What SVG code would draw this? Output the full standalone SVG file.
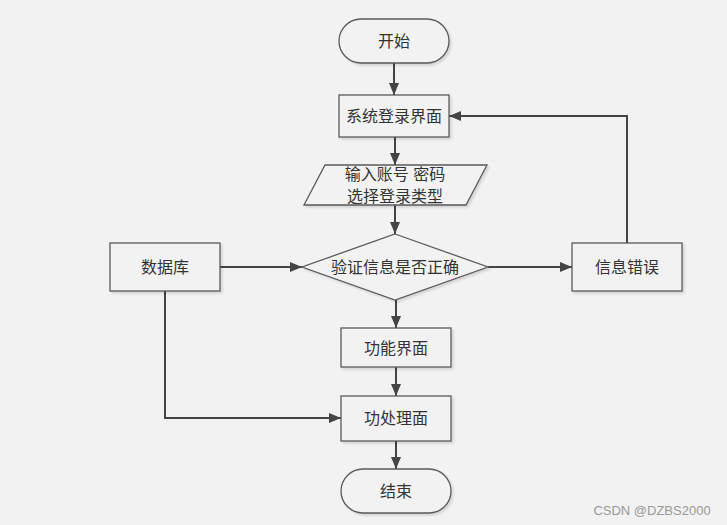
<svg xmlns="http://www.w3.org/2000/svg" width="727" height="525" viewBox="0 0 727 525">
<style>
.s{fill:#f2f2f2;stroke:#5a5a5a;stroke-width:1.3}
.t{font-family:"Liberation Sans","Noto Sans CJK SC",sans-serif;font-size:16px;fill:#333;text-anchor:middle;dominant-baseline:central}
.c{fill:none;stroke:#444;stroke-width:2}
</style>
<defs>
<marker id="a" viewBox="0 0 12 10" refX="12" refY="5" markerWidth="12" markerHeight="10" orient="auto" markerUnits="userSpaceOnUse">
<path d="M0,0 L12,5 L0,10 z" fill="#444"/>
</marker>
<filter id="sh" x="-10%" y="-10%" width="130%" height="130%"><feDropShadow dx="2" dy="2" stdDeviation="1" flood-color="#000" flood-opacity="0.12"/></filter>
</defs>
<rect width="727" height="525" fill="#f2f2f2"/>
<g id="connectors">
<path d="M394,63 V95" class="c" marker-end="url(#a)"/>
<path d="M395,137 V165" class="c" marker-end="url(#a)"/>
<path d="M395,205 V234" class="c" marker-end="url(#a)"/>
<path d="M220,267 H302" class="c" marker-end="url(#a)"/>
<path d="M488,267 H572" class="c" marker-end="url(#a)"/>
<path d="M627,243 V116 H449" class="c" marker-end="url(#a)"/>
<path d="M396,300 V328" class="c" marker-end="url(#a)"/>
<path d="M396,367 V396" class="c" marker-end="url(#a)"/>
<path d="M165,291 V418 H341" class="c" marker-end="url(#a)"/>
<path d="M396,441 V469" class="c" marker-end="url(#a)"/>
</g>
<g id="start"><rect class="s" filter="url(#sh)" x="339" y="19" width="110" height="44" rx="22"/><text class="t" x="394" y="41">开始</text></g>
<g id="login"><rect class="s" filter="url(#sh)" x="339" y="95" width="110" height="42"/><text class="t" x="394" y="116">系统登录界面</text></g>
<g id="input"><polygon class="s" filter="url(#sh)" points="325,165 487,165 466,205 304,205"/><text class="t" x="395" y="174">输入账号 密码</text><text class="t" x="395" y="196">选择登录类型</text></g>
<g id="verify"><polygon class="s" filter="url(#sh)" points="395,234 488,267 395,300 302,267"/><text class="t" x="395" y="267">验证信息是否正确</text></g>
<g id="db"><rect class="s" filter="url(#sh)" x="110" y="243" width="110" height="48"/><text class="t" x="165" y="267">数据库</text></g>
<g id="error"><rect class="s" filter="url(#sh)" x="572" y="243" width="110" height="48"/><text class="t" x="627" y="267">信息错误</text></g>
<g id="func"><rect class="s" filter="url(#sh)" x="341" y="328" width="110" height="39"/><text class="t" x="396" y="348">功能界面</text></g>
<g id="proc"><rect class="s" filter="url(#sh)" x="341" y="396" width="110" height="45"/><text class="t" x="396" y="418">功处理面</text></g>
<g id="end"><rect class="s" filter="url(#sh)" x="341" y="469" width="110" height="44" rx="22"/><text class="t" x="396" y="491">结束</text></g>
<text x="652" y="510" font-family="'Liberation Sans',sans-serif" font-size="13" fill="#999" text-anchor="middle" dominant-baseline="central">CSDN @DZBS2000</text>
</svg>
